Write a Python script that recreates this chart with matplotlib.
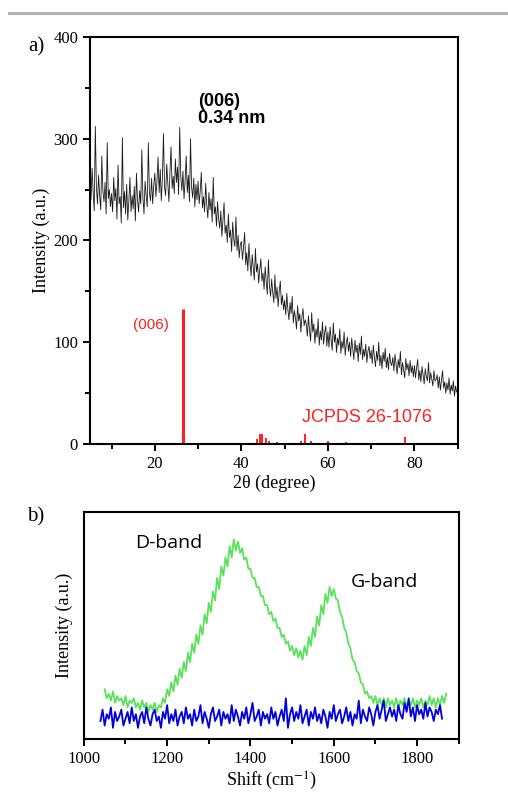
import numpy as np
import matplotlib
matplotlib.use("Agg")
import matplotlib.pyplot as plt
from matplotlib.ticker import MultipleLocator, NullLocator

plt.rcParams['font.family'] = ['Liberation Serif', 'DejaVu Serif']
plt.rcParams['mathtext.fontset'] = 'stix'

# ---- a) XRD pattern, 2theta 5..90 every 0.25 degree ----
xrd_start, xrd_step = 5.0, 0.25
xrd_intensity = [
    258, 240, 271, 247, 229, 312, 252, 236, 264, 244, 230, 283, 249, 238, 257, 226, 296, 241, 250, 233,
    246, 228, 262, 239, 251, 221, 274, 236, 243, 217, 301, 232, 248, 226, 255, 220, 239, 262, 228, 244,
    231, 253, 219, 266, 240, 228, 249, 236, 289, 242, 226, 258, 244, 233, 296, 247, 239, 261, 236, 254,
    266, 243, 258, 282, 247, 270, 239, 261, 305, 252, 244, 275, 256, 238, 268, 292, 251, 263, 246, 280,
    257, 272, 245, 311, 263, 249, 268, 241, 259, 283, 247, 264, 238, 300, 252, 242, 261, 233, 255, 240,
    258, 236, 249, 267, 232, 243, 228, 256, 235, 222, 247, 230, 241, 218, 262, 226, 233, 214, 238, 221,
    212, 229, 204, 221, 237, 207, 215, 198, 226, 203, 210, 189, 218, 201, 194, 223, 190, 205, 183, 196,
    199, 181, 193, 208, 176, 188, 170, 197, 179, 165, 186, 173, 161, 192, 169, 177, 158, 171, 182, 160,
    168, 152, 174, 159, 147, 181, 155, 145, 162, 149, 139, 166, 143, 154, 135, 150, 160, 137, 146, 132,
    141, 127, 148, 132, 122, 139, 128, 145, 119, 131, 124, 113, 136, 121, 128, 110, 125, 133, 116, 122,
    118, 106, 126, 112, 101, 129, 110, 118, 99, 113, 105, 123, 97, 111, 102, 120, 98, 109, 116, 96,
    110, 95, 115, 102, 92, 119, 100, 108, 90, 104, 97, 113, 89, 101, 94, 110, 87, 99, 105, 91,
    100, 86, 104, 93, 83, 102, 90, 97, 81, 99, 88, 106, 83, 93, 86, 98, 80, 91, 96, 84,
    92, 79, 97, 85, 76, 91, 82, 100, 77, 87, 74, 90, 81, 94, 75, 85, 73, 89, 80, 77,
    85, 72, 88, 78, 69, 83, 75, 91, 68, 80, 73, 65, 84, 73, 79, 67, 82, 70, 77, 66,
    77, 65, 75, 83, 63, 72, 61, 76, 68, 59, 74, 66, 62, 80, 60, 70, 64, 57, 72, 62,
    63, 68, 55, 66, 53, 63, 72, 55, 61, 50, 60, 53, 65, 49, 58, 52, 62, 47, 57, 51,
    51,
]
xrd_two_theta = xrd_start + xrd_step * np.arange(len(xrd_intensity))

# JCPDS 26-1076 reference lines
ref_pos = [26.5, 43.6, 44.2, 44.8, 45.6, 46.5, 48.3, 53.8, 54.6, 56.1, 60.1, 64.1, 77.8]
ref_int = [133, 5, 10, 10, 6, 3, 2, 3, 10, 3, 3, 2, 7]

# ---- b) Raman spectra, every 5 cm-1 ----
raman_step = 5
raman_green_start = 1050
raman_green = [
    22, 18, 20, 17, 21, 16, 19, 17, 18, 15, 19, 14, 17, 16, 18, 14, 16, 13, 17, 14,
    16, 12, 15, 13, 16, 12, 15, 14, 18, 16, 22, 19, 25, 21, 28, 24, 31, 27, 34, 30,
    38, 34, 42, 38, 46, 42, 50, 46, 55, 51, 60, 56, 65, 61, 71, 66, 76, 72, 80, 76,
    85, 80, 88, 83, 87, 82, 84, 79, 80, 75, 75, 71, 71, 67, 67, 63, 63, 59, 59, 55,
    56, 52, 53, 49, 49, 45, 46, 42, 43, 39, 41, 37, 40, 36, 39, 35, 41, 37, 45, 41,
    49, 45, 54, 50, 59, 55, 64, 60, 67, 63, 66, 62, 61, 56, 54, 49, 47, 42, 40, 35,
    34, 30, 29, 25, 24, 20, 21, 18, 19, 16, 19, 15, 18, 15, 18, 14, 18, 15, 17, 14,
    18, 14, 17, 15, 18, 14, 17, 15, 18, 14, 17, 15, 18, 14, 17, 15, 19, 15, 18, 14,
    18, 15, 19, 16, 20,
]
raman_blue_start = 1040
raman_blue = [
    8, 13, 6, 11, 9, 14, 5, 12, 8, 10, 13, 6, 9, 12, 7, 14, 8, 11, 5, 10,
    12, 7, 14, 9, 6, 11, 13, 8, 10, 5, 12, 9, 15, 7, 11, 8, 13, 6, 10, 12,
    7, 14, 9, 11, 6, 13, 8, 10, 15, 7, 12, 9, 5, 11, 14, 8, 10, 13, 6, 12,
    9, 11, 7, 15, 8, 13, 10, 6, 12, 9, 14, 7, 11, 16, 8, 10, 13, 6, 12, 9,
    11, 7, 14, 9, 12, 6, 10, 13, 8, 18, 5, 11, 14, 8, 12, 9, 15, 7, 10, 13,
    6, 12, 9, 14, 8, 11, 7, 13, 10, 5, 12, 9, 15, 8, 11, 13, 7, 10, 14, 8,
    12, 6, 11, 9, 17, 7, 13, 10, 8, 14, 11, 6, 12, 15, 9, 13, 17, 8, 11, 14,
    10, 13, 8, 15, 11, 9, 16, 12, 18, 10, 14, 8, 15, 11, 13, 9, 16, 10, 14, 12,
    8, 13, 11, 15, 9,
]
green_shift = raman_green_start + raman_step * np.arange(len(raman_green))
blue_shift = raman_blue_start + raman_step * np.arange(len(raman_blue))

fig = plt.figure(figsize=(5.08, 8.0), dpi=100)

# grey rule at the top of the page
fig.add_artist(plt.Line2D([0.018, 1.0], [0.984, 0.984], color='#b4b4b4', lw=2.2))


def style_axes(ax):
    for s in ax.spines.values():
        s.set_linewidth(1.5)
    ax.tick_params(which='both', direction='out', width=1.4, labelsize=12,
                   top=False, right=False)
    ax.tick_params(which='major', length=5)
    ax.tick_params(which='minor', length=3.5)


# ---- panel a ----
ax1 = fig.add_axes([0.177, 0.445, 0.724, 0.509])
ax1.plot(xrd_two_theta, xrd_intensity, color='#1a1a1a', lw=0.6)
ax1.vlines(ref_pos, 0, ref_int, colors='#ff1f1f',
           linewidths=[2.2] + [1.4] * (len(ref_pos) - 1))
ax1.set_xlim(5, 90)
ax1.set_ylim(0, 400)
ax1.xaxis.set_major_locator(MultipleLocator(20))
ax1.xaxis.set_minor_locator(MultipleLocator(10))
ax1.yaxis.set_major_locator(MultipleLocator(100))
ax1.yaxis.set_minor_locator(MultipleLocator(50))
style_axes(ax1)
ax1.set_xlabel('2θ (degree)', fontsize=13, labelpad=2)
ax1.set_ylabel('Intensity (a.u.)', fontsize=13, labelpad=2)

ax1.text(30, 345, '(006)\n0.34 nm', family='Liberation Sans', fontweight='bold',
         fontsize=13, ha='left', va='top', linespacing=1.0)
ax1.text(15, 117, '(006)', family='Liberation Sans', color='#ff1f1f',
         fontsize=11, ha='left', va='center')
ax1.text(53.9, 26.5, 'JCPDS 26-1076', family='Liberation Sans', color='#ff1f1f',
         fontsize=13, ha='left', va='center')
fig.text(0.055, 0.941, 'a)', fontsize=15, ha='left', va='center')

# ---- panel b ----
ax2 = fig.add_axes([0.165, 0.076, 0.738, 0.284])
ax2.plot(green_shift, raman_green, color='#5ae25a', lw=1.3)
ax2.plot(blue_shift, raman_blue, color='#0000dd', lw=1.3)
ax2.set_xlim(1000, 1900)
ax2.set_ylim(0, 100)
ax2.xaxis.set_major_locator(MultipleLocator(200))
ax2.xaxis.set_minor_locator(MultipleLocator(100))
ax2.yaxis.set_major_locator(NullLocator())
style_axes(ax2)
ax2.set_xlabel('Shift (cm$^{-1}$)', fontsize=13, labelpad=2)
ax2.set_ylabel('Intensity (a.u.)', fontsize=13, labelpad=8)

ax2.text(1122, 86.3, 'D-band', family='Open Sans', fontsize=14, ha='left', va='center')
ax2.text(1641, 69.2, 'G-band', family='Open Sans', fontsize=14, ha='left', va='center')
fig.text(0.053, 0.354, 'b)', fontsize=15, ha='left', va='center')

fig.savefig('out.png', dpi=100)
